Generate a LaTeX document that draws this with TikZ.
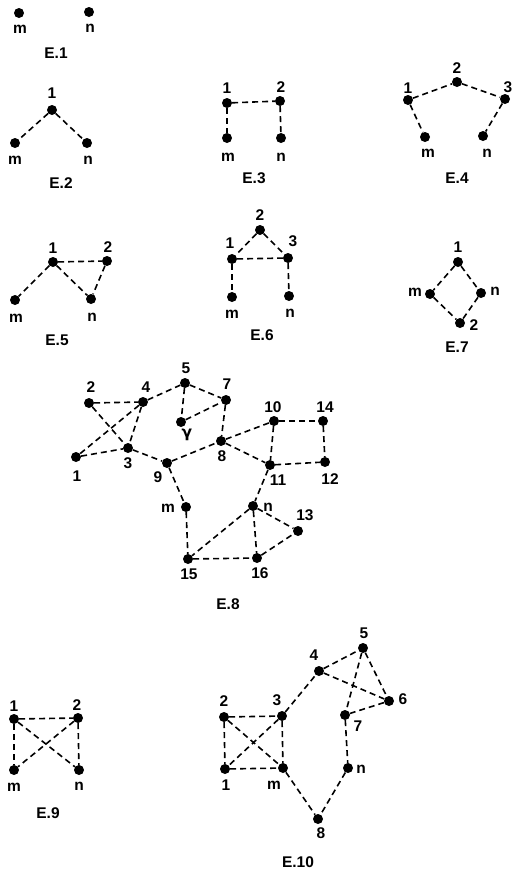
\documentclass[tikz,border=0pt]{standalone}
\usepackage{fontspec}
\setmainfont{Liberation Sans}
\newfontfamily\gfont{DejaVu Sans}
\begin{document}
\begin{tikzpicture}[x=1pt,y=-1pt,
  dot/.style={circle,fill=black,inner sep=0pt,minimum size=10pt},
  lab/.style={inner sep=0pt,font=\fontsize{15.5}{17}\selectfont\bfseries},
  captxt/.style={inner sep=0pt,font=\fontsize{15.5}{17}\selectfont\bfseries},
  link/.style={line width=1.6pt,dash pattern=on 6pt off 4pt}]
\useasboundingbox (0,0) rectangle (513,871);
% E.1
\node[dot] (a-m) at (19,13) {};
\node[dot] (a-n) at (89,12) {};
\node[lab] (la-m) at (20,29) {m};
\node[lab] (la-n) at (90,28) {n};
\node[captxt] (ca) at (56,53) {E.1};
% E.2
\node[dot] (b-1) at (52,110) {};
\node[dot] (b-m) at (15,143) {};
\node[dot] (b-n) at (87,143) {};
\node[lab] (lb-1) at (52,93) {1};
\node[lab] (lb-m) at (15,160) {m};
\node[lab] (lb-n) at (88,160) {n};
\node[captxt] (cb) at (61,183) {E.2};
\draw[link] (b-1) -- (b-m); \draw[link] (b-1) -- (b-n);
% E.3
\node[dot] (c-1) at (227,103) {};
\node[dot] (c-2) at (280,101) {};
\node[dot] (c-m) at (227,138) {};
\node[dot] (c-n) at (281,138) {};
\node[lab] (lc-1) at (227,88) {1};
\node[lab] (lc-2) at (281,87) {2};
\node[lab] (lc-m) at (228,157) {m};
\node[lab] (lc-n) at (281,157) {n};
\node[captxt] (cc) at (254,178) {E.3};
\draw[link] (c-1) -- (c-2); \draw[link] (c-1) -- (c-m); \draw[link] (c-2) -- (c-n);
% E.4
\node[dot] (d-1) at (408,100) {};
\node[dot] (d-2) at (457,82) {};
\node[dot] (d-3) at (505,99) {};
\node[dot] (d-m) at (425,137) {};
\node[dot] (d-n) at (483,136) {};
\node[lab] (ld-1) at (408,88) {1};
\node[lab] (ld-2) at (457,68) {2};
\node[lab] (ld-3) at (508,87) {3};
\node[lab] (ld-m) at (428,153) {m};
\node[lab] (ld-n) at (487,153) {n};
\node[captxt] (cd) at (457,178) {E.4};
\draw[link] (d-1) -- (d-2); \draw[link] (d-2) -- (d-3);
\draw[link] (d-1) -- (d-m); \draw[link] (d-3) -- (d-n);
% E.5
\node[dot] (e-1) at (53,262) {};
\node[dot] (e-2) at (107,261) {};
\node[dot] (e-n) at (91,299) {};
\node[dot] (e-m) at (15,300) {};
\node[lab] (le-1) at (53,248) {1};
\node[lab] (le-2) at (108,247) {2};
\node[lab] (le-m) at (16,318) {m};
\node[lab] (le-n) at (92,317) {n};
\node[captxt] (ce) at (57,340) {E.5};
\draw[link] (e-1) -- (e-2); \draw[link] (e-1) -- (e-m);
\draw[link] (e-1) -- (e-n); \draw[link] (e-2) -- (e-n);
% E.6
\node[dot] (f-2) at (260,230) {};
\node[dot] (f-1) at (232,259) {};
\node[dot] (f-3) at (288,258) {};
\node[dot] (f-m) at (232,297) {};
\node[dot] (f-n) at (289,296) {};
\node[lab] (lf-2) at (260,215) {2};
\node[lab] (lf-1) at (230,243) {1};
\node[lab] (lf-3) at (293,241) {3};
\node[lab] (lf-m) at (232,314) {m};
\node[lab] (lf-n) at (290,313) {n};
\node[captxt] (cf) at (262,335) {E.6};
\draw[link] (f-2) -- (f-1); \draw[link] (f-2) -- (f-3); \draw[link] (f-1) -- (f-3);
\draw[link] (f-1) -- (f-m); \draw[link] (f-3) -- (f-n);
% E.7
\node[dot] (g-1) at (458,262) {};
\node[dot] (g-m) at (430,294) {};
\node[dot] (g-n) at (481,293) {};
\node[dot] (g-2) at (460,323) {};
\node[lab] (lg-1) at (458,247) {1};
\node[lab] (lg-m) at (415,292) {m};
\node[lab] (lg-n) at (495,291) {n};
\node[lab] (lg-2) at (474,325) {2};
\node[captxt] (cg) at (457,347) {E.7};
\draw[link] (g-1) -- (g-m); \draw[link] (g-1) -- (g-n);
\draw[link] (g-m) -- (g-2); \draw[link] (g-n) -- (g-2);
% E.8
\node[dot] (h-2) at (89,403) {};
\node[dot] (h-4) at (143,402) {};
\node[dot] (h-5) at (185,383) {};
\node[dot] (h-7) at (226,400) {};
\node[dot] (h-6) at (181,422) {};
\node[dot] (h-1) at (76,457) {};
\node[dot] (h-3) at (128,448) {};
\node[dot] (h-9) at (167,463) {};
\node[dot] (h-8) at (221,441) {};
\node[dot] (h-10) at (274,421) {};
\node[dot] (h-14) at (323,421) {};
\node[dot] (h-11) at (270,465) {};
\node[dot] (h-12) at (325,462) {};
\node[dot] (h-m) at (186,507) {};
\node[dot] (h-n) at (253,506) {};
\node[dot] (h-13) at (298,531) {};
\node[dot] (h-15) at (188,559) {};
\node[dot] (h-16) at (257,558) {};
\node[lab] (lh-2) at (91,387) {2};
\node[lab] (lh-4) at (146,387) {4};
\node[lab] (lh-5) at (186,368) {5};
\node[lab] (lh-7) at (227,384) {7};
\node[lab] (lh-6) at (187,435) {\gfont γ};
\node[lab] (lh-1) at (77,476) {1};
\node[lab] (lh-3) at (128,463) {3};
\node[lab] (lh-9) at (158,477) {9};
\node[lab] (lh-8) at (222,456) {8};
\node[lab] (lh-10) at (273,407) {10};
\node[lab] (lh-14) at (325,407) {14};
\node[lab] (lh-11) at (278,480) {11};
\node[lab] (lh-12) at (330,479) {12};
\node[lab] (lh-m) at (168,508) {m};
\node[lab] (lh-n) at (268,507) {n};
\node[lab] (lh-13) at (305,515) {13};
\node[lab] (lh-15) at (189,574) {15};
\node[lab] (lh-16) at (260,573) {16};
\node[captxt] (ch) at (228,604) {E.8};
\foreach \a/\b in {2/4,2/3,4/1,4/3,1/3,3/9,4/5,5/7,5/6,6/7,7/8,9/8,8/10,8/11,10/14,10/11,11/12,14/12,9/m,11/n,m/15,n/15,n/16,n/13,15/16,16/13}
  \draw[link] (h-\a) -- (h-\b);
% E.9
\node[dot] (i-1) at (14,719) {};
\node[dot] (i-2) at (78,718) {};
\node[dot] (i-m) at (14,770) {};
\node[dot] (i-n) at (79,770) {};
\node[lab] (li-1) at (14,706) {1};
\node[lab] (li-2) at (77,705) {2};
\node[lab] (li-m) at (14,787) {m};
\node[lab] (li-n) at (79,786) {n};
\node[captxt] (ci) at (48,813) {E.9};
\foreach \a/\b in {1/2,1/m,2/n,1/n,2/m}
  \draw[link] (i-\a) -- (i-\b);
% E.10
\node[dot] (j-2) at (224,717) {};
\node[dot] (j-3) at (282,716) {};
\node[dot] (j-1) at (225,769) {};
\node[dot] (j-m) at (283,768) {};
\node[dot] (j-4) at (319,671) {};
\node[dot] (j-5) at (363,648) {};
\node[dot] (j-6) at (389,701) {};
\node[dot] (j-7) at (345,715) {};
\node[dot] (j-n) at (348,768) {};
\node[dot] (j-8) at (318,819) {};
\node[lab] (lj-2) at (224,701) {2};
\node[lab] (lj-3) at (277,700) {3};
\node[lab] (lj-1) at (226,785) {1};
\node[lab] (lj-m) at (274,785) {m};
\node[lab] (lj-4) at (314,655) {4};
\node[lab] (lj-5) at (364,633) {5};
\node[lab] (lj-6) at (403,699) {6};
\node[lab] (lj-7) at (358,726) {7};
\node[lab] (lj-n) at (361,769) {n};
\node[lab] (lj-8) at (321,833) {8};
\node[captxt] (cj) at (298,862) {E.10};
\foreach \a/\b in {2/3,2/1,3/m,1/m,2/m,3/1,3/4,4/5,4/6,5/6,5/7,6/7,7/n,n/8,m/8}
  \draw[link] (j-\a) -- (j-\b);
\end{tikzpicture}
\end{document}
